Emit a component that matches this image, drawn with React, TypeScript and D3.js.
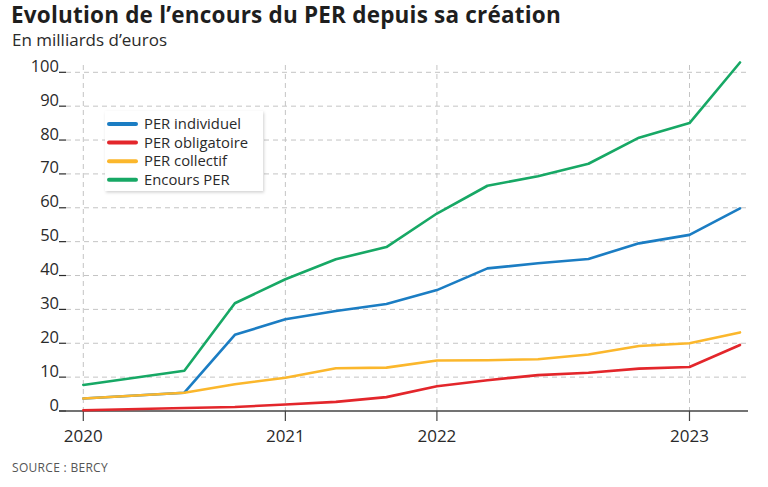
import React from "react";
import * as d3 from "d3";

const periods = ["2020T1","2020T2","2020T3","2020T4","2021T1","2021T2","2021T3","2021T4","2022T1","2022T2","2022T3","2022T4","2023T1","2023T2"];
const obsPeriods = ["2020T1","2020T3","2020T4","2021T1","2021T2","2021T3","2021T4","2022T1","2022T2","2022T3","2022T4","2023T1","2023T2"];
const perIndividuel = [3.7, 5.4, 22.5, 27.1, 29.5, 31.6, 35.7, 42.1, 43.6, 44.9, 49.5, 52.0, 59.8];
const perObligatoire = [0.2, 0.9, 1.2, 1.9, 2.7, 4.1, 7.3, 9.1, 10.6, 11.3, 12.5, 13.0, 19.5];
const perCollectif = [3.7, 5.4, 7.9, 9.8, 12.6, 12.8, 14.9, 15.0, 15.3, 16.7, 19.2, 20.0, 23.2];
const encoursPER = [7.7, 11.9, 31.8, 38.9, 44.8, 48.4, 58.3, 66.5, 69.3, 73.0, 80.7, 85.0, 102.9];
const seriesNames = ["PER individuel", "PER obligatoire", "PER collectif", "Encours PER"];
const seriesColors = ["#1b7dc3", "#e3262b", "#fbb72c", "#17a865"];
const yTicks = [0, 10, 20, 30, 40, 50, 60, 70, 80, 90, 100];
const xTickPeriods = ["2020T1", "2021T1", "2021T4", "2023T1"];
const xTickLabels = ["2020", "2021", "2022", "2023"];

const W = 768, H = 487;
const FONT = "'Open Sans', sans-serif";

export default function App() {
  const x = d3.scalePoint<string>().domain(periods).range([83.3, 740]);
  const y = d3.scaleLinear().domain([0, 100]).range([411, 72.3]);
  const allSeries = [perIndividuel, perObligatoire, perCollectif, encoursPER];
  const line = d3.line<number>()
    .x((_, i) => x(obsPeriods[i]) as number)
    .y((d) => y(d));
  const gridLeft = 66, gridRight = 748, gridTop = 65;
  const drawOrder = [0, 2, 1, 3];
  return (
    <svg width={W} height={H} style={{ position: "absolute", left: 0, top: 0, background: "#fff" }} fontFamily={FONT}>
      <rect x={0} y={0} width={W} height={H} fill="#fff" />
      <text x={11} y={23} fontSize={22.5} fontWeight={700} fill="#1e1e1e" letterSpacing={0.2}>
        Evolution de l’encours du PER depuis sa création
      </text>
      <text x={12} y={46} fontSize={17} fill="#2a2a2a">En milliards d’euros</text>

      {yTicks.filter((t) => t > 0).map((t) => (
        <line key={"hg" + t} x1={gridLeft} x2={gridRight} y1={y(t)} y2={y(t)} stroke="#c4c4c4" strokeWidth={1} strokeDasharray="5,4" />
      ))}
      {xTickPeriods.map((p) => (
        <line key={"vg" + p} x1={x(p)} x2={x(p)} y1={gridTop} y2={411} stroke="#c4c4c4" strokeWidth={1} strokeDasharray="5,4" />
      ))}
      {yTicks.map((t) => (
        <g key={"yt" + t}>
          <text x={59} y={y(t) - 0.5} fontSize={16.5} textAnchor="end" fill="#2a2a2a">{t}</text>
          <line x1={59} x2={66} y1={y(t)} y2={y(t)} stroke="#2a2a2a" strokeWidth={1.2} />
        </g>
      ))}
      <line x1={59} x2={gridRight} y1={411} y2={411} stroke="#444" strokeWidth={1.5} />
      {xTickPeriods.map((p, i) => (
        <g key={"xt" + p}>
          <line x1={x(p)} x2={x(p)} y1={411} y2={421} stroke="#444" strokeWidth={1.2} />
          <text x={x(p)} y={442} fontSize={17} textAnchor="middle" fill="#2a2a2a">{xTickLabels[i]}</text>
        </g>
      ))}

      {drawOrder.map((si) => (
        <path key={"s" + si} d={line(allSeries[si]) || ""} fill="none" stroke={seriesColors[si]} strokeWidth={2.6} strokeLinejoin="round" strokeLinecap="round" />
      ))}

      <defs>
        <filter id="sh" x="-10%" y="-10%" width="130%" height="130%">
          <feDropShadow dx={1} dy={1.5} stdDeviation={1.5} floodColor="#000" floodOpacity={0.18} />
        </filter>
      </defs>
      <rect x={105} y={111} width={158} height={80} fill="#fff" filter="url(#sh)" />
      {seriesNames.map((n, i) => (
        <g key={"lg" + i}>
          <line x1={109} x2={136} y1={124 + i * 18.6} y2={124 + i * 18.6} stroke={seriesColors[i]} strokeWidth={4} strokeLinecap="round" />
          <text x={144} y={129 + i * 18.6} fontSize={14.8} fill="#2a2a2a">{n}</text>
        </g>
      ))}

      <text x={12} y={472} fontSize={12} fill="#555" letterSpacing={0.3}>SOURCE : BERCY</text>
    </svg>
  );
}
